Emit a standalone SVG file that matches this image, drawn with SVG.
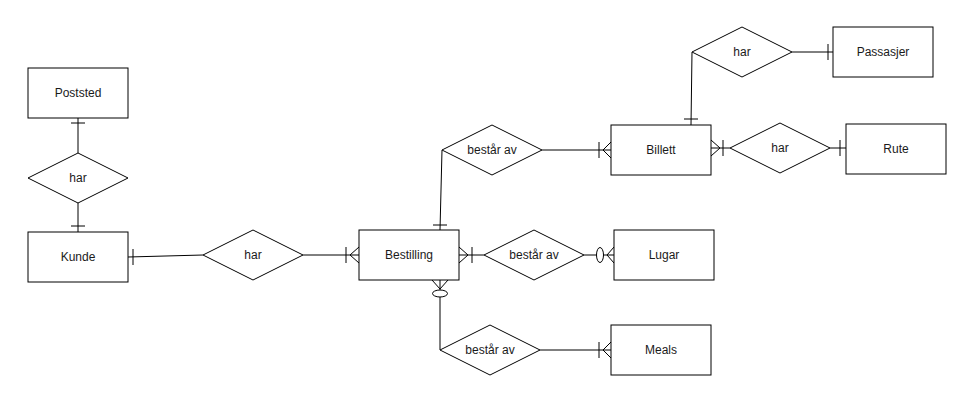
<svg xmlns="http://www.w3.org/2000/svg" width="971" height="401" viewBox="0 0 971 401">
  <style>
    .ent { fill: #ffffff; stroke: #000000; stroke-width: 1; }
    .rel { fill: #ffffff; stroke: #000000; stroke-width: 1; }
    .lbl { font-family: "Liberation Sans", Arial, sans-serif; font-size: 12px; fill: #1a1a1a; text-anchor: middle; dominant-baseline: central; }
    .edge line, .edge polyline, .edge path { fill: none; stroke: #000000; stroke-width: 1; }
    .edge ellipse { fill: #ffffff; stroke: #000000; stroke-width: 1; }
  </style>
  <rect width="971" height="401" fill="#ffffff"/>

  <!-- connectors -->
  <g id="connectors" class="edge">
    <!-- Poststed - har -->
    <line x1="78" y1="118" x2="78" y2="153"/>
    <line x1="71" y1="123" x2="85" y2="123"/>
    <!-- har - Kunde -->
    <line x1="78" y1="203" x2="78" y2="232"/>
    <line x1="71" y1="226" x2="85" y2="226"/>
    <!-- Kunde - har -->
    <line x1="128" y1="257" x2="203" y2="255"/>
    <line x1="133" y1="249" x2="133" y2="265"/>
    <!-- har - Bestilling (one to many) -->
    <line x1="303" y1="255" x2="359" y2="255"/>
    <line x1="346" y1="247" x2="346" y2="263"/>
    <polyline points="359,247 350,255 359,263"/>
    <!-- Bestilling - består av (Lugar) -->
    <line x1="459" y1="255" x2="484" y2="255"/>
    <polyline points="459,247 468,255 459,263"/>
    <line x1="472" y1="247" x2="472" y2="263"/>
    <!-- består av - Lugar (zero to many) -->
    <line x1="584" y1="255" x2="614" y2="255"/>
    <polyline points="614,247 607,255 614,263"/>
    <ellipse cx="600" cy="255" rx="3.5" ry="7.5"/>
    <!-- Bestilling - består av (Meals), zero to many -->
    <line x1="440" y1="280" x2="440" y2="350"/>
    <polyline points="432,280 440,289 448,280"/>
    <ellipse cx="440" cy="293.5" rx="7.5" ry="3.5"/>
    <!-- består av - Meals -->
    <line x1="540" y1="350" x2="611" y2="350"/>
    <line x1="599" y1="342" x2="599" y2="358"/>
    <polyline points="611,342 603,350 611,358"/>
    <!-- består av (Billett) - Bestilling -->
    <line x1="442" y1="150" x2="440" y2="230"/>
    <line x1="433" y1="225" x2="447" y2="225"/>
    <!-- består av - Billett -->
    <line x1="542" y1="150" x2="611" y2="150"/>
    <line x1="599" y1="142" x2="599" y2="158"/>
    <polyline points="611,142 603,150 611,158"/>
    <!-- Billett - har (Rute) -->
    <line x1="711" y1="148" x2="730" y2="148"/>
    <polyline points="711,140 720,148 711,156"/>
    <line x1="723" y1="140" x2="723" y2="156"/>
    <!-- har - Rute -->
    <line x1="830" y1="148" x2="846" y2="148"/>
    <line x1="840" y1="140" x2="840" y2="156"/>
    <!-- har (Passasjer) - Billett -->
    <line x1="692" y1="52" x2="691" y2="125"/>
    <line x1="684" y1="119" x2="698" y2="119"/>
    <!-- har - Passasjer -->
    <line x1="792" y1="52" x2="833" y2="52"/>
    <line x1="828" y1="44" x2="828" y2="60"/>
  </g>

  <!-- entities -->
  <g id="poststed">
    <rect class="ent" x="28" y="68" width="100" height="50"/>
    <text class="lbl" x="78" y="93">Poststed</text>
  </g>
  <g id="kunde">
    <rect class="ent" x="28" y="232" width="100" height="50"/>
    <text class="lbl" x="78" y="257">Kunde</text>
  </g>
  <g id="bestilling">
    <rect class="ent" x="359" y="230" width="100" height="50"/>
    <text class="lbl" x="409" y="255">Bestilling</text>
  </g>
  <g id="lugar">
    <rect class="ent" x="614" y="230" width="100" height="50"/>
    <text class="lbl" x="664" y="255">Lugar</text>
  </g>
  <g id="meals">
    <rect class="ent" x="611" y="325" width="100" height="50"/>
    <text class="lbl" x="661" y="350">Meals</text>
  </g>
  <g id="billett">
    <rect class="ent" x="611" y="125" width="100" height="50"/>
    <text class="lbl" x="661" y="150">Billett</text>
  </g>
  <g id="rute">
    <rect class="ent" x="846" y="124" width="100" height="50"/>
    <text class="lbl" x="896" y="149">Rute</text>
  </g>
  <g id="passasjer">
    <rect class="ent" x="833" y="27" width="100" height="50"/>
    <text class="lbl" x="883" y="52">Passasjer</text>
  </g>

  <!-- relationships -->
  <g id="har-poststed-kunde">
    <polygon class="rel" points="78,153 128,178 78,203 28,178"/>
    <text class="lbl" x="78" y="178">har</text>
  </g>
  <g id="har-kunde-bestilling">
    <polygon class="rel" points="203,255 253,230 303,255 253,280"/>
    <text class="lbl" x="253" y="255">har</text>
  </g>
  <g id="bestar-av-lugar">
    <polygon class="rel" points="484,255 534,230 584,255 534,280"/>
    <text class="lbl" x="534" y="255">består av</text>
  </g>
  <g id="bestar-av-meals">
    <polygon class="rel" points="440,350 490,325 540,350 490,375"/>
    <text class="lbl" x="490" y="350">består av</text>
  </g>
  <g id="bestar-av-billett">
    <polygon class="rel" points="442,150 492,125 542,150 492,175"/>
    <text class="lbl" x="492" y="150">består av</text>
  </g>
  <g id="har-billett-rute">
    <polygon class="rel" points="730,148 780,123 830,148 780,173"/>
    <text class="lbl" x="780" y="148">har</text>
  </g>
  <g id="har-billett-passasjer">
    <polygon class="rel" points="692,52 742,27 792,52 742,77"/>
    <text class="lbl" x="742" y="52">har</text>
  </g>
</svg>
